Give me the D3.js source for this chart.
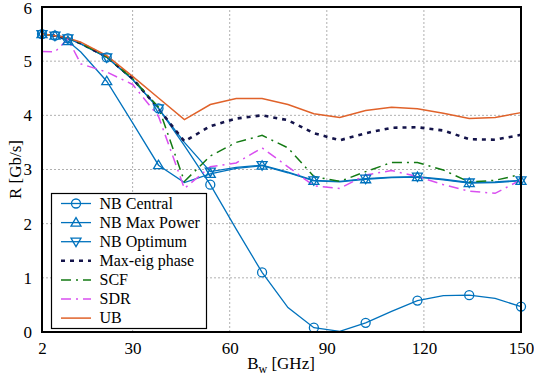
<!DOCTYPE html>
<html>
<head>
<meta charset="utf-8">
<script src="https://cdn.jsdelivr.net/npm/d3@7"></script>
<style>
  body { margin: 0; background: #fff; }
  text { font-family: "Liberation Serif", "DejaVu Serif", serif; }
</style>
</head>
<body>
<div id="chart"></div>
<script>
// bandwidth samples (GHz)
const bw = [2, 6, 10, 14, 22, 30, 38, 46, 54, 62, 70, 78, 86, 94, 102, 110, 118, 126, 134, 142, 150];
const markerBw = [2, 6, 10, 22, 38, 54, 70, 86, 102, 118, 134, 150];

const nbCentral  = [5.5, 5.47, 5.42, 5.32, 5.07, 4.66, 4.13, 3.44, 2.72, 1.9, 1.1, 0.45, 0.08, 0.01, 0.17, 0.38, 0.58, 0.67, 0.68, 0.62, 0.47];
const nbMaxPower = [5.5, 5.47, 5.37, 5.17, 4.63, 3.86, 3.08, 2.76, 2.92, 3.02, 3.07, 2.94, 2.79, 2.77, 2.82, 2.85, 2.86, 2.81, 2.75, 2.76, 2.79];
const nbOptimum  = [5.5, 5.47, 5.42, 5.32, 5.07, 4.66, 4.13, 3.5, 2.96, 3.04, 3.08, 2.95, 2.8, 2.78, 2.83, 2.86, 2.87, 2.82, 2.76, 2.77, 2.8];
const maxEig     = [5.5, 5.47, 5.42, 5.33, 5.08, 4.68, 4.12, 3.52, 3.8, 3.94, 4.0, 3.91, 3.67, 3.54, 3.67, 3.77, 3.78, 3.72, 3.56, 3.55, 3.64];
const scf        = [5.5, 5.47, 5.42, 5.33, 5.08, 4.68, 4.15, 2.78, 3.25, 3.5, 3.63, 3.4, 2.87, 2.78, 2.96, 3.13, 3.13, 2.99, 2.77, 2.8, 2.91];
const sdr        = [5.18, 5.17, 5.41, 4.95, 4.8, 4.57, 3.98, 2.65, 3.05, 3.12, 3.4, 3.05, 2.7, 2.65, 2.9, 2.98, 2.87, 2.72, 2.6, 2.56, 2.81];
const ub         = [5.5, 5.47, 5.43, 5.35, 5.1, 4.72, 4.32, 3.92, 4.2, 4.31, 4.31, 4.2, 4.03, 3.96, 4.09, 4.15, 4.12, 4.04, 3.94, 3.96, 4.05];

const xTicks = [2, 30, 60, 90, 120, 150];
const yTicks = [0, 1, 2, 3, 4, 5, 6];

const series = [
    { name: "NB Central",    values: nbCentral,  color: "#0072bd", width: 1.3, dash: null, marker: "circle" },
    { name: "NB Max Power",  values: nbMaxPower, color: "#0072bd", width: 1.3, dash: null, marker: "up" },
    { name: "NB Optimum",    values: nbOptimum,  color: "#0072bd", width: 1.3, dash: null, marker: "down" },
    { name: "Max-eig phase", values: maxEig,     color: "#14144a", width: 2.6, dash: "4,5", marker: null },
    { name: "SCF",           values: scf,        color: "#137a13", width: 1.5, dash: "10,5,2,5", marker: null },
    { name: "SDR",           values: sdr,        color: "#d94ff0", width: 1.5, dash: "10,5,2,5", marker: null },
    { name: "UB",            values: ub,         color: "#e0622a", width: 1.5, dash: null, marker: null }
];

const width = 534;
const height = 376;
const margin = { top: 7, right: 13, bottom: 44, left: 42 };

const svg = d3.select("#chart")
    .append("svg")
    .attr("width", width)
    .attr("height", height);

const x = d3.scaleLinear().domain([2, 150]).range([margin.left, width - margin.right]);
const y = d3.scaleLinear().domain([0, 6]).range([height - margin.bottom, margin.top]);

// grid
svg.append("g")
    .selectAll("line")
    .data(xTicks.slice(1, -1))
    .enter()
    .append("line")
    .attr("x1", d => x(d)).attr("x2", d => x(d))
    .attr("y1", y(0)).attr("y2", y(6))
    .attr("stroke", "#b0b0b0")
    .attr("stroke-width", 1)
    .attr("stroke-dasharray", "2,2");

svg.append("g")
    .selectAll("line")
    .data(yTicks.slice(1, -1))
    .enter()
    .append("line")
    .attr("x1", x(2)).attr("x2", x(150))
    .attr("y1", d => y(d)).attr("y2", d => y(d))
    .attr("stroke", "#b0b0b0")
    .attr("stroke-width", 1)
    .attr("stroke-dasharray", "2,2");

// axes (tick labels only, frame drawn separately)
const xAxis = svg.append("g")
    .attr("transform", `translate(0,${y(0)})`)
    .call(d3.axisBottom(x).tickValues(xTicks).tickFormat(d3.format("d")).tickSize(0).tickPadding(10));
const yAxis = svg.append("g")
    .attr("transform", `translate(${x(2)},0)`)
    .call(d3.axisLeft(y).tickValues(yTicks).tickFormat(d3.format("d")).tickSize(0).tickPadding(10));

[xAxis, yAxis].forEach(a => {
    a.select(".domain").remove();
    a.selectAll(".tick line").remove();
    a.selectAll("text")
        .style("font-family", "'Liberation Serif', serif")
        .style("font-size", "17px")
        .attr("fill", "#000");
});
yAxis.selectAll(".tick")
    .filter(d => d === 6)
    .select("text")
    .attr("dy", "0.4em");

// lines
const line = d3.line()
    .x((d, i) => x(bw[i]))
    .y(d => y(d));

const plot = svg.append("g");

series.forEach(s => {
    plot.append("path")
        .attr("d", line(s.values))
        .attr("fill", "none")
        .attr("stroke", s.color)
        .attr("stroke-width", s.width)
        .attr("stroke-dasharray", s.dash);
});

function drawMarker(g, type, cx, cy, color) {
    if (type === "circle") {
        g.append("circle")
            .attr("cx", cx).attr("cy", cy).attr("r", 4.5)
            .attr("fill", "none").attr("stroke", color).attr("stroke-width", 1.3);
    } else {
        const s = 5;
        const pts = type === "up"
            ? [[cx, cy - s], [cx - s, cy + s * 0.7], [cx + s, cy + s * 0.7]]
            : [[cx, cy + s], [cx - s, cy - s * 0.7], [cx + s, cy - s * 0.7]];
        g.append("polygon")
            .attr("points", pts.map(p => p.join(",")).join(" "))
            .attr("fill", "none").attr("stroke", color).attr("stroke-width", 1.3);
    }
}

series.filter(s => s.marker).forEach(s => {
    bw.forEach((b, i) => {
        if (markerBw.includes(b)) {
            drawMarker(plot, s.marker, x(b), y(s.values[i]), s.color);
        }
    });
});

// frame
svg.append("rect")
    .attr("x", x(2)).attr("y", y(6))
    .attr("width", x(150) - x(2)).attr("height", y(0) - y(6))
    .attr("fill", "none")
    .attr("stroke", "#000")
    .attr("stroke-width", 2);

// legend
const lg = svg.append("g").attr("transform", "translate(51.5,193.5)");
lg.append("rect")
    .attr("width", 155).attr("height", 135)
    .attr("fill", "#fff")
    .attr("stroke", "#000")
    .attr("stroke-width", 1.2);

series.forEach((s, i) => {
    const ly = 10 + i * 19.1;
    lg.append("line")
        .attr("x1", 9.5).attr("x2", 39.5)
        .attr("y1", ly).attr("y2", ly)
        .attr("stroke", s.color)
        .attr("stroke-width", s.width)
        .attr("stroke-dasharray", s.dash);
    if (s.marker) drawMarker(lg, s.marker, 24.5, ly, s.color);
    lg.append("text")
        .attr("x", 48).attr("y", ly + 5)
        .style("font-size", "16px")
        .text(s.name);
});

// axis titles
const xt = svg.append("text")
    .attr("x", 281).attr("y", 369)
    .attr("text-anchor", "middle")
    .style("font-size", "17px");
xt.append("tspan").text("B");
xt.append("tspan").attr("dy", 4).style("font-size", "12px").text("w");
xt.append("tspan").attr("dy", -4).text(" [GHz]");

svg.append("text")
    .attr("transform", `translate(21,${(y(0) + y(6)) / 2}) rotate(-90)`)
    .attr("text-anchor", "middle")
    .style("font-size", "17px")
    .text("R [Gb/s]");
</script>
</body>
</html>
